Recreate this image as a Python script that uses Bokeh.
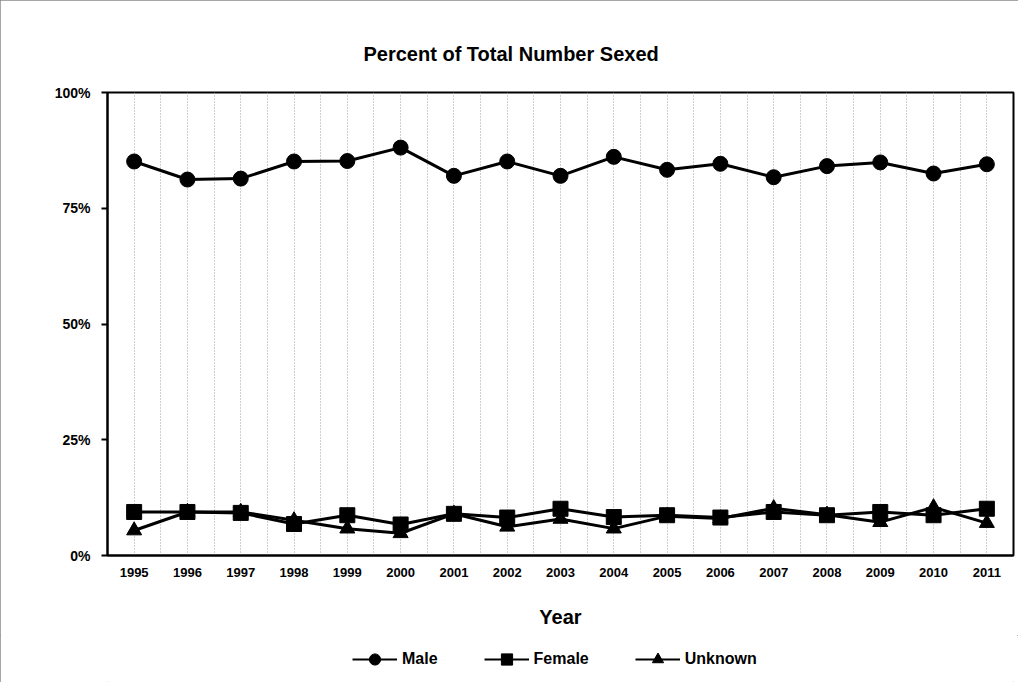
from bokeh.plotting import figure
from bokeh.layouts import column
from bokeh.models import ColumnDataSource, FixedTicker, Legend, LegendItem, Range1d, InlineStyleSheet
from bokeh.embed import file_html
from bokeh.resources import INLINE

# ---- data ----
years = list(range(1995, 2012))
male = [85.1, 81.2, 81.4, 85.1, 85.2, 88.1, 82.0, 85.1, 82.0, 86.1, 83.3, 84.6, 81.7, 84.1, 84.9, 82.5, 84.5]
female = [9.4, 9.4, 9.2, 6.8, 8.7, 6.7, 9.0, 8.2, 10.1, 8.3, 8.7, 8.2, 9.4, 8.7, 9.4, 8.7, 10.1]
unknown = [5.4, 9.4, 9.4, 7.6, 5.8, 4.8, 9.0, 6.2, 7.9, 5.8, 8.5, 8.0, 10.2, 8.8, 7.2, 10.4, 7.0]
y_ticks = [0, 25, 50, 75, 100]
y_tick_labels = ["0%", "25%", "50%", "75%", "100%"]
series_names = ["Male", "Female", "Unknown"]
series_cols = ["male", "female", "unknown"]
series_markers = ["circle", "square", "triangle"]
title_text = "Percent of Total Number Sexed"
x_title = "Year"

FONT = "Liberation Sans"
W = 1018

src = ColumnDataSource(data=dict(year=years, male=male, female=female, unknown=unknown))

p = figure(
    frame_width=906, frame_height=463,
    min_border_left=107, min_border_right=5, min_border_top=92, min_border_bottom=80,
    x_range=Range1d(years[0] - 0.5, years[-1] + 0.5),
    y_range=Range1d(y_ticks[0], y_ticks[-1]),
    output_backend="svg", toolbar_location=None,
    title=title_text,
)

# title
p.title.text_font = FONT
p.title.text_font_size = "20px"
p.title.text_font_style = "bold"
p.title.text_color = "black"
p.title.align = "left"
p.title.offset = 256
p.title.standoff = 55

# frame
p.outline_line_color = "black"
p.outline_line_width = 2
p.background_fill_color = "white"
p.border_fill_color = "white"

# grids: vertical dotted at every year and half-year boundary
p.ygrid.visible = False
half_steps = [years[0] + 0.5 * k for k in range(0, 2 * (years[-1] - years[0]) + 1)]
p.xgrid.ticker = FixedTicker(ticks=half_steps)
p.xgrid.grid_line_color = "#9a9a9a"
p.xgrid.grid_line_dash = "1 2"
p.xgrid.grid_line_width = 1

# y axis
p.yaxis.ticker = FixedTicker(ticks=y_ticks)
p.yaxis.major_label_overrides = {t: l for t, l in zip(y_ticks, y_tick_labels)}
p.yaxis.minor_tick_line_color = None
p.yaxis.major_tick_out = 6
p.yaxis.major_tick_in = 0
p.yaxis.major_tick_line_color = "black"
p.yaxis.major_tick_line_width = 2
p.yaxis.axis_line_color = "black"
p.yaxis.axis_line_width = 2
p.yaxis.major_label_standoff = 11
p.yaxis.major_label_text_font = FONT
p.yaxis.major_label_text_font_size = "14px"
p.yaxis.major_label_text_font_style = "bold"
p.yaxis.major_label_text_color = "black"

# x axis
p.xaxis.ticker = FixedTicker(ticks=years)
p.xaxis.major_label_overrides = {y: str(y) for y in years}
p.xaxis.minor_tick_line_color = None
p.xaxis.major_tick_out = 0
p.xaxis.major_tick_in = 0
p.xaxis.axis_line_color = "black"
p.xaxis.axis_line_width = 2
p.xaxis.major_label_standoff = 12
p.xaxis.major_label_text_font = FONT
p.xaxis.major_label_text_font_size = "13px"
p.xaxis.major_label_text_font_style = "bold"
p.xaxis.major_label_text_color = "black"
p.xaxis.axis_label = x_title
p.xaxis.axis_label_standoff = 26
p.xaxis.axis_label_text_font = FONT
p.xaxis.axis_label_text_font_size = "20px"
p.xaxis.axis_label_text_font_style = "bold"
p.xaxis.axis_label_text_color = "black"

# series
for col, marker in zip(series_cols, series_markers):
    p.line("year", col, source=src, line_color="black", line_width=3)
    p.scatter("year", col, source=src, marker=marker, size=15,
              fill_color="black", line_color="black")

# legend strip below the chart; its key renderers use the same data but lie
# outside this strip's (empty) view ranges, so only the legend is seen
lg = figure(width=W, height=47, output_backend="svg", toolbar_location=None,
            x_range=Range1d(0, 1), y_range=Range1d(0, 1),
            min_border=0, x_axis_location=None, y_axis_location=None)
lg.grid.visible = False
lg.outline_line_color = None
lg.border_fill_color = "white"
items = []
for name, col, marker in zip(series_names, series_cols, series_markers):
    lr = lg.line("year", col, source=src, line_color="black", line_width=2)
    sr = lg.scatter("year", col, source=src, marker=marker, size=15,
                    fill_color="black", line_color="black")
    items.append(LegendItem(label=name, renderers=[lr, sr]))

legend = Legend(
    items=items, orientation="horizontal", location=(245, 9),
    glyph_width=45, glyph_height=28, label_standoff=5, spacing=46,
    padding=0, margin=0,
    border_line_color=None, background_fill_alpha=0,
    label_text_font=FONT, label_text_font_size="16px", label_text_font_style="bold",
    label_text_color="black",
)
lg.add_layout(legend, "center")

layout = column(p, lg, spacing=0)
layout.stylesheets = [InlineStyleSheet(css=":host { outline: 1px solid #8a8a8a; outline-offset: -1px; z-index: 5; }")]
open("out.html", "w").write(file_html(layout, INLINE))
